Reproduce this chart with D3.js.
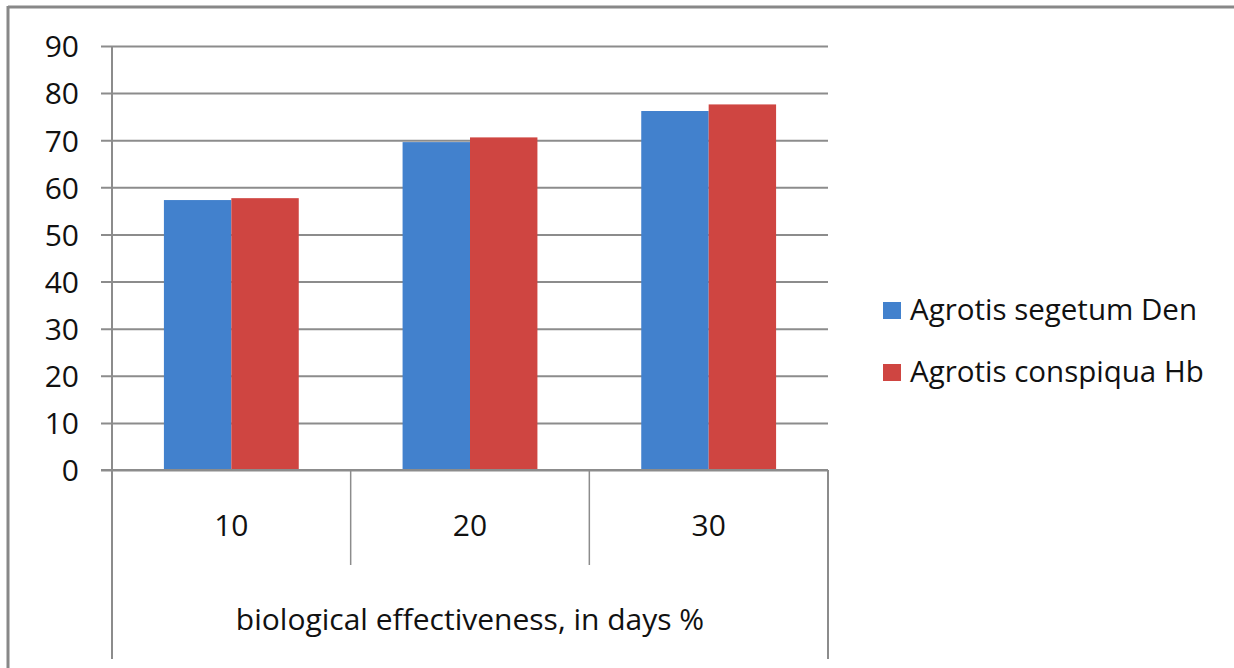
<!DOCTYPE html>
<html>
<head>
<meta charset="utf-8">
<script src="https://cdn.jsdelivr.net/npm/d3@7"></script>
<style>
  html, body { margin: 0; padding: 0; background: #fff; }
  svg { display: block; }
  text { font-family: "Open Sans", Lato, sans-serif; fill: #111; }
</style>
</head>
<body>
<svg id="chart" width="1234" height="668"></svg>
<script>
const categories = ["10", "20", "30"];
const seriesNames = ["Agrotis segetum Den", "Agrotis conspiqua Hb"];
const segetumValues = [57.3, 69.6, 76.2];
const conspiquaValues = [57.7, 70.6, 77.6];
const yTicks = [0, 10, 20, 30, 40, 50, 60, 70, 80, 90];
const axisTitle = "biological effectiveness, in days %";
const colors = ["#4281cd", "#cf4541"];

const seriesValues = [segetumValues, conspiquaValues];
const rows = categories.map((c, i) => ({ cat: c, vals: seriesNames.map((s, j) => ({ name: s, v: seriesValues[j][i], j })) }));

const svg = d3.select("#chart");
const pLeft = 112, pRight = 828, pTop = 46, pBottom = 470;
const lineColor = "#8c8c8c";
const fontFam = "\"Open Sans\", Lato, sans-serif";

// outer frame (top and left edges)
svg.append("line").attr("x1", 8).attr("x2", 1234).attr("y1", 7).attr("y2", 7).attr("stroke", "#888").attr("stroke-width", 3);
svg.append("line").attr("x1", 8).attr("x2", 8).attr("y1", 6).attr("y2", 668).attr("stroke", "#888").attr("stroke-width", 3);

const x0 = d3.scaleBand().domain(categories).range([pLeft, pRight]).padding(0);
const x1 = d3.scaleBand().domain(seriesNames).range([0, x0.bandwidth()]).paddingInner(0).paddingOuter(0.77);
const y = d3.scaleLinear().domain([0, 90]).range([pBottom, pTop]);

// gridlines + ticks via axis
const yAxis = d3.axisLeft(y).tickValues(yTicks).tickSize(0).tickPadding(0).tickFormat(d3.format("d"));
const gy = svg.append("g").attr("transform", `translate(${pLeft - 11},0)`).call(yAxis);
gy.attr("font-family", fontFam).attr("font-size", 30);
gy.select(".domain").remove();
gy.selectAll(".tick line").attr("stroke", lineColor).attr("stroke-width", 2).attr("x1", 0).attr("x2", pRight - pLeft + 11);
gy.selectAll(".tick text").attr("x", -22).attr("dy", "0.36em").attr("fill", "#111");

// bars
const groups = svg.append("g").selectAll("g").data(rows).join("g").attr("transform", d => `translate(${x0(d.cat)},0)`);
groups.selectAll("rect").data(d => d.vals).join("rect")
  .attr("x", d => x1(d.name))
  .attr("width", x1.bandwidth())
  .attr("y", d => y(d.v))
  .attr("height", d => y(0) - y(d.v))
  .attr("fill", d => colors[d.j]);

// y axis line extended down
svg.append("line").attr("x1", pLeft).attr("x2", pLeft).attr("y1", pTop).attr("y2", 659).attr("stroke", lineColor).attr("stroke-width", 2);
svg.append("line").attr("x1", pRight).attr("x2", pRight).attr("y1", pBottom).attr("y2", 659).attr("stroke", lineColor).attr("stroke-width", 2);
// category dividers
svg.append("g").selectAll("line").data(categories.slice(1)).join("line")
  .attr("x1", d => x0(d)).attr("x2", d => x0(d)).attr("y1", pBottom).attr("y2", 565)
  .attr("stroke", lineColor).attr("stroke-width", 1.5);
// x-axis baseline
svg.append("line").attr("x1", pLeft - 11).attr("x2", pRight).attr("y1", pBottom).attr("y2", pBottom).attr("stroke", lineColor).attr("stroke-width", 2);

// category labels
svg.append("g").selectAll("text").data(categories).join("text")
  .attr("x", d => x0(d) + x0.bandwidth() / 2).attr("y", 536)
  .attr("text-anchor", "middle").attr("font-size", 30).text(d => d);

// axis title
svg.append("text").attr("x", (pLeft + pRight) / 2).attr("y", 630).attr("text-anchor", "middle").attr("font-size", 30).text(axisTitle);

// legend
const lg = svg.append("g").selectAll("g").data(seriesNames).join("g").attr("transform", (d, i) => `translate(883,${302 + i * 62})`);
lg.append("rect").attr("width", 18).attr("height", 17).attr("fill", (d, i) => colors[i]);
lg.append("text").attr("x", 27).attr("y", 18).attr("font-size", 29.5).text(d => d);
</script>
</body>
</html>
